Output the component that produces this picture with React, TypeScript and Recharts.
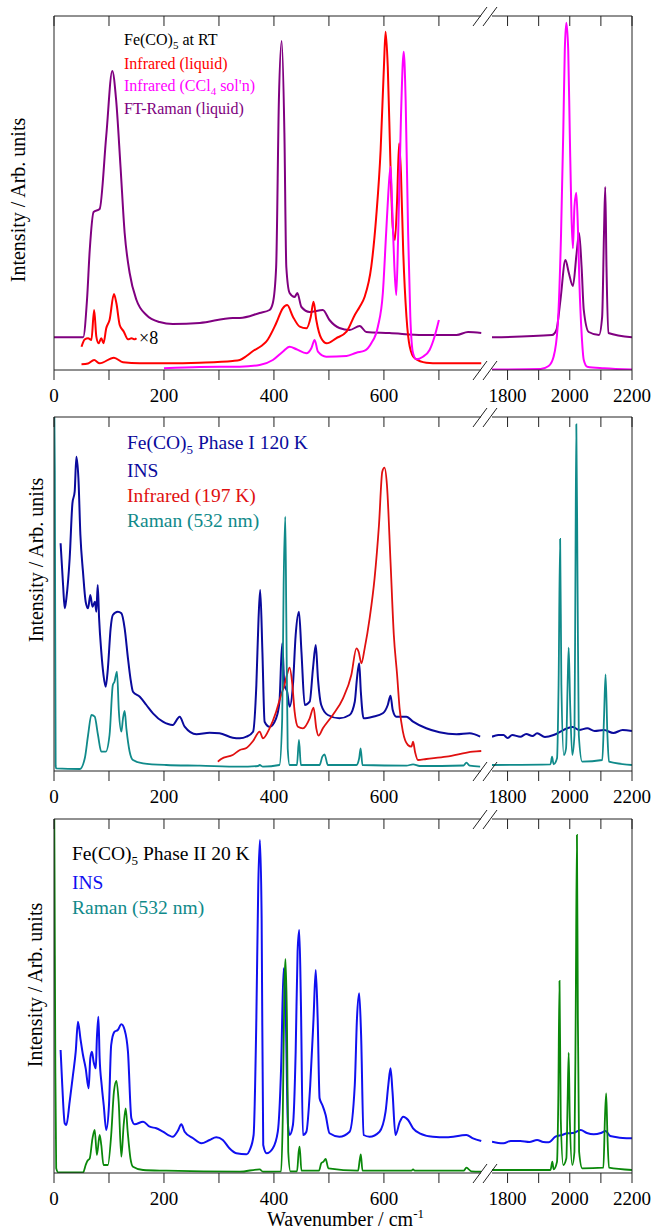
// Fe(CO)5 vibrational spectra — three stacked panels, broken wavenumber axis
import { LineChart, Line, XAxis, YAxis } from 'recharts'

type Pt = [number, number]

const C = {
  axis: '#222', purple: '#800080', red: '#ff0000', magenta: '#ff00ff',
  navy: '#0a0a9c', red2: '#e01010', teal: '#108a8a', blue: '#1010f0', green: '#0a880a',
}
const FONT = "'Liberation Serif', 'Times New Roman', serif"

const LEFT_DOMAIN: [number, number] = [0, 782]
const RIGHT_DOMAIN: [number, number] = [1750, 2200]
const LEFT_TICKS = [0, 100, 200, 300, 400, 500, 600, 700]
const RIGHT_TICKS = [1800, 1900, 2000, 2100, 2200]

// ── Panel 1: liquid at room temperature ─────────────────────
const ramanLiquidLow: Pt[] = [
  [0, 32.7], [53, 32.7], [60, 70], [65, 120], [72, 158], [83, 161], [95, 234], [106, 299],
  [113, 270], [121, 203], [128.5, 137], [137.6, 97], [150, 70], [168, 55], [192, 48], [216, 46],
  [265, 47], [325, 52], [338, 52], [374, 57], [392, 60], [398, 67], [404, 103], [409, 270],
  [414, 329], [419, 237], [422.5, 103], [428.5, 77], [437.6, 73], [442.5, 77], [450, 63], [465, 58],
  [489, 60], [501, 50], [519, 42], [537.6, 40], [556, 44], [568, 38], [610, 37], [671, 35],
  [732, 35], [753, 38], [777, 37],
]
const ramanLiquidHigh: Pt[] = [
  [1750, 32.7], [1943, 35], [1957, 40], [1970, 70], [1986, 110], [1997, 97], [2010, 84], [2022, 117],
  [2030, 137], [2038, 103], [2045, 60], [2061, 38], [2094, 35], [2104, 53], [2110, 137], [2114, 183],
  [2118, 103], [2124, 37], [2200, 32.7],
]
const irLiquid: Pt[] = [
  [50, 5.7], [62, 6.5], [73, 10], [83, 6.7], [109, 12.3], [125.5, 7.7], [156, 6.7], [204, 6.7],
  [265, 7.3], [325, 9], [338, 10], [350, 14], [362, 19], [377, 24], [386, 28.3], [404, 46.7],
  [416, 61.7], [424, 65], [434.5, 53.3], [447, 43.3], [459, 41.7], [467, 53.3], [472, 68.3], [477, 50],
  [486, 31.7], [496, 26.7], [513, 31.7], [532, 38.3], [547, 55], [556, 63.3], [565, 73.3], [577, 103.3],
  [586, 153.3], [594, 220], [600, 303.3], [603, 338.3], [607, 303.3], [612, 203.3], [616, 143.3],
  [620, 130], [624, 170], [627.6, 226.7], [631, 196.7], [635, 120], [641, 53.3], [647, 23.3],
  [656, 11.7], [677, 7.3], [701, 6.7], [777, 6.7],
]
const irLiquidX8: Pt[] = [
  [50, 23.3], [56, 30.7], [62, 31.7], [68, 30], [73, 60], [77, 33.3], [81, 26.7], [86, 31.7],
  [90, 26.7], [95, 41.7], [101, 50], [109, 76], [113.5, 66.7], [119.5, 45], [127, 38.3],
  [134.5, 30.7], [141, 31.7], [147, 30.7], [150, 31.7],
]
const irCCl4Low: Pt[] = [
  [200, 1.7], [265, 3], [338, 3.3], [374, 5], [398, 10], [416, 18.3], [428.5, 23.3], [441, 20.7],
  [459, 16.7], [468, 21.7], [474, 30], [480, 18.3], [495, 13.3], [532, 14], [550, 17.3], [565, 19.3],
  [577, 26.7], [589, 43.3], [598, 76.7], [604, 136.7], [608, 176.7], [612, 203.3], [615, 163.3],
  [619, 103.3], [622.5, 75], [626, 136.7], [631, 253.3], [636, 318.3], [639.5, 270], [644, 136.7],
  [648, 53.3], [653, 16.7], [659, 10.7], [671, 13.3], [683, 20], [692, 33.3], [700, 50],
]
const irCCl4High: Pt[] = [
  [1750, 0.5], [1906, 1], [1932, 4], [1948, 13.3], [1961, 43.3], [1972, 136.7], [1979, 236.7],
  [1984, 320], [1989, 347.3], [1995, 320], [2000, 236.7], [2005.5, 153.3], [2010, 121.7],
  [2015, 163.3], [2021, 177.3], [2026, 143.3], [2031, 86.7], [2038, 36.7], [2045, 10], [2056, 3.3],
  [2110, 1.7], [2200, 0.5],
]

// ── Panel 2: phase I, 120 K ─────────────────────────────────
const insPhaseILow: Pt[] = [
  [12, 227.7], [16.5, 186], [19.5, 162.7], [22.5, 172.7], [28.5, 212.7], [33.5, 267.7], [37.6, 279.3],
  [40.7, 314.3], [44.4, 292.7], [48, 236], [52.7, 199.3], [57.6, 169.3], [62, 162.7], [66, 176],
  [70, 164.3], [74.5, 169.3], [77, 159.3], [79.5, 186], [82, 152.7], [86, 119.3], [90, 96], [94, 84.3],
  [98, 102.7], [103, 142.7], [107, 156], [116, 159.3], [122.5, 157.7], [128.5, 142.7], [134.5, 112.7],
  [139, 92.7], [143.6, 79.3], [156, 74.3], [168, 66], [180, 57.7], [198, 49.3], [216, 46],
  [228.5, 54.3], [237.6, 44.3], [259, 36.7], [283, 38.3], [301, 37.7], [325, 33.3], [338, 32.7],
  [350, 34.3], [362, 39.3], [368, 86], [372, 152.7], [375, 181], [379, 119.3], [383, 49.3], [392, 44.3],
  [404, 52.7], [410, 69.3], [415, 127.7], [419, 86], [424, 79.3], [428.5, 64.3], [434.5, 86],
  [439.5, 136], [445.5, 159.3], [450, 119.3], [456, 66], [465, 69.3], [471, 102.7], [476, 126],
  [480, 92.7], [486, 66], [498, 56], [519, 52.7], [537.6, 56], [547, 69.3], [551, 92.7], [555, 107.7],
  [558, 79.3], [563, 52.7], [580, 54.3], [598, 57.7], [607, 66], [612, 75.3], [616, 61], [622.5, 54.3],
  [641, 54.3], [653, 49.3], [677, 42.7], [701, 38.7], [732, 36.7], [756, 37.7], [775, 34.3],
]
const insPhaseIHigh: Pt[] = [
  [1750, 34.3], [1770, 36], [1787, 36], [1800, 33], [1815, 36], [1841, 34.3], [1860, 37], [1880, 35],
  [1895, 37.7], [1920, 34], [1948, 36], [1970, 39.3], [1992, 42.7], [2010, 44], [2030, 41],
  [2056, 42.7], [2080, 40], [2110, 41], [2140, 38], [2170, 41], [2200, 40],
]
const ir197K: Pt[] = [
  [298, 9.3], [304, 12], [325, 16], [338, 21], [350, 23], [362, 30], [374, 39.3], [380, 32.7],
  [392, 42.7], [404, 59.3], [413, 76], [419, 86], [423.6, 96], [428.5, 103.3], [433.5, 86],
  [437.6, 59.3], [443.6, 44.3], [452.7, 42.7], [465, 52.7], [472, 63.3], [477, 42.7], [481, 35.3],
  [489, 42.7], [507, 56], [525.6, 72.7], [540.7, 96], [550, 122.7], [554, 119.3], [559, 107.7],
  [565, 122.7], [574, 152.7], [583, 192.7], [591, 246], [597, 299.3], [601, 303.3], [605.5, 286],
  [612, 209.3], [618, 136], [624, 96], [628.5, 62.7], [634.5, 39.3], [643.6, 26], [650, 24.3],
  [653, 29.3], [656.5, 19.3], [662, 11], [677, 12], [713.5, 14.3], [762, 19.3], [777, 20],
]
const ramanPhaseILow: Pt[] = [
  [0, 400], [1.5, 300], [3, 5], [4.2, 2.7], [47, 2], [56, 12.7], [62, 36], [68, 56], [74, 54.3],
  [80, 36], [86, 19.3], [94, 19.3], [101, 36], [107, 86], [110, 89.3], [114.5, 99.3], [118, 59.3],
  [122.5, 39.3], [125.5, 52.7], [128.5, 60], [131.6, 42.7], [137.6, 19.3], [143.6, 11], [162, 7.7],
  [204, 6], [265, 5.3], [338, 4.3], [371, 5], [374, 6], [380, 4.3], [410, 6], [415, 52.7],
  [417.6, 186], [420.6, 254.3], [422.5, 152.7], [425, 22.7], [428.5, 6], [441.8, 6], [445.5, 31],
  [449, 6], [483, 6], [488, 14.3], [492, 16.7], [498, 6], [550, 6], [555, 12.7], [557.6, 22.7],
  [561, 6], [641, 5.3], [653, 6.7], [665, 5], [745, 5.5], [750, 8.3], [756, 5.3], [775, 4.3],
]
const ramanPhaseIHigh: Pt[] = [
  [1750, 6], [1938, 6.7], [1943, 14.3], [1948, 6.7], [1959, 12.7], [1964, 86], [1969, 232], [1973, 86],
  [1981, 16], [1988, 22.7], [1993, 86], [1996.5, 123.3], [2001, 69.3], [2008, 16], [2015, 36],
  [2018, 186], [2021, 346.7], [2025, 186], [2029, 36], [2040, 9.3], [2104.5, 11], [2110, 52.7],
  [2115, 96.7], [2121, 36], [2126, 9.3], [2200, 6],
]

// ── Panel 3: phase II, 20 K ─────────────────────────────────
const insPhaseIILow: Pt[] = [
  [12, 123], [15, 88], [19.5, 49.7], [22.5, 48], [28.5, 71.3], [34.5, 98], [39.5, 121.3], [43.6, 151.3],
  [48, 134.7], [52.7, 118], [57.6, 104.7], [63, 84.7], [66, 114.7], [69, 121.3], [72, 111.3],
  [76, 104.7], [78, 134.7], [80.7, 156.3], [83, 114.7], [86.7, 88], [90.4, 68], [95, 43], [100, 68],
  [104, 128], [110, 141.3], [116, 143], [122.5, 148.7], [128.5, 143], [134.5, 121.3], [140.7, 54.7],
  [146.7, 48.7], [162, 51.3], [174, 46.3], [186, 44.7], [198, 41.3], [216, 36.3], [225, 42],
  [231.6, 48.7], [237.6, 41.3], [253, 34.7], [268, 29.7], [283, 33], [295, 35.7], [307, 33],
  [319, 24.7], [331.6, 19.7], [350, 18.7], [356, 23], [363, 38], [368, 154.7], [371.5, 288],
  [374.5, 333], [377.6, 254.7], [380.5, 28], [386.7, 19.7], [398, 24.7], [407, 41.3], [413, 104.7],
  [417.6, 204.7], [421, 171.3], [425.5, 48], [428.5, 38], [434.5, 48], [439.5, 121.3], [443, 221.3],
  [446, 243], [449, 171.3], [452.7, 38], [459, 41.3], [466, 88], [472, 154.7], [476, 203],
  [479.5, 154.7], [483, 74.7], [488, 68], [494, 58], [501, 39.7], [519, 36.3], [537.6, 41.3],
  [547, 88], [551, 154.7], [555, 179.7], [558.5, 138], [563, 38], [574, 36.3], [592, 41.3],
  [603, 61.3], [608, 88], [612, 104.7], [615.6, 81.3], [621, 38], [629, 51.3], [635, 56.3],
  [644, 53], [653, 44.7], [665, 39.7], [689, 36.3], [713.5, 35.7], [750, 38], [762, 34.7], [777, 32],
]
const insPhaseIIHigh: Pt[] = [
  [1750, 31.3], [1770, 30], [1787, 29.7], [1810, 32], [1841, 32], [1870, 31], [1895, 33], [1915, 31],
  [1932, 30.7], [1954, 36.3], [1975, 38], [1992, 39.7], [2010, 40], [2035, 43], [2055, 40],
  [2077, 38.7], [2100, 40], [2115, 42], [2130, 37], [2142, 36.3], [2170, 35], [2200, 34.7],
]
const ramanPhaseIILow: Pt[] = [
  [0, 420], [1, 300], [2.5, 100], [4, 4.7], [7.5, 0.7], [53, 0.7], [57.6, 8], [60.7, 12], [65, 14.7],
  [70, 34.7], [74, 43], [78, 18], [83, 38], [86, 28], [90, 8], [98, 8], [104, 38], [109, 81.3],
  [113.5, 92], [117.6, 71.3], [122.5, 16.3], [126.7, 48], [130.4, 64.7], [134, 41.3], [139, 14.7],
  [143.6, 6.3], [162, 3], [204, 2.3], [338, 1.3], [374, 3.7], [380, 1.3], [413, 1.7], [416, 54.7],
  [419, 188], [421, 214], [423.6, 154.7], [426, 21.3], [430, 1.7], [442, 1.7], [445, 21.3],
  [446.7, 26.3], [450, 2.3], [482, 2.3], [486, 9.7], [490, 11.3], [494, 14], [499, 4.7], [553, 2.3],
  [556, 13], [558, 18.7], [561, 2.3], [650, 2.3], [653, 3.7], [656, 2.3], [745, 2.3], [750, 5.3],
  [759, 1.7], [777, 1.3],
]
const ramanPhaseIIHigh: Pt[] = [
  [1750, 3], [1938, 3], [1944, 11.3], [1948, 3.7], [1959, 11.3], [1963, 71.3], [1967, 192],
  [1971, 54.7], [1979, 8], [1989, 14.7], [1993, 71.3], [1996.5, 120.3], [2000, 54.7], [2008, 8],
  [2015, 21.3], [2019, 154.7], [2023, 338], [2026, 154.7], [2030, 21.3], [2040, 4.7], [2108, 5.3],
  [2113, 54.7], [2117, 79.7], [2121, 38], [2126, 5.3], [2200, 3],
]

// ── Layout ─────────────────────────────────────────────────
const PLOT_H = 354
const M_TOP = 10
const AXIS_H = 40
const LEFT_W = 484      // y axis 54 + plot 430
// right segment: plot spans page x 492..632, extra room left/right for tick labels
const RIGHT_X = 462
const RIGHT_W = 191
const RIGHT_PAD_L = 30
const RIGHT_PAD_R = 20
const PANEL_TOPS = [16, 417, 819]

interface Series { key: string; data: Pt[]; color: string; w: number }

const pts = (a: Pt[]) => a.map(([x, y]) => ({ x, y }))

function Segment({ x, top, width, padL, padR, domain, ticks, series, side }: {
  x: number; top: number; width: number; padL: number; padR: number
  domain: [number, number]; ticks: number[]; series: Series[]; side: 'left' | 'right'
}) {
  const h = M_TOP + PLOT_H + AXIS_H
  return (
    <div style={{ position: 'absolute', left: x, top: top - M_TOP, width, height: h }}>
      <LineChart width={width} height={h} margin={{ top: M_TOP, right: padR, bottom: 0, left: padL }}>
        <XAxis dataKey="x" type="number" domain={domain} ticks={ticks} allowDataOverflow interval={0}
          height={AXIS_H} tickSize={10} tickMargin={9} stroke={C.axis}
          tick={{ fill: '#000', fontSize: 19, fontFamily: FONT }}
          tickFormatter={(v: number) => (v % 200 === 0 ? String(v) : '')} />
        <XAxis xAxisId="top" orientation="top" mirror dataKey="x" type="number" domain={domain}
          ticks={ticks} allowDataOverflow interval={0} tickSize={10} stroke={C.axis}
          tickFormatter={() => ''} />
        <YAxis type="number" domain={[0, PLOT_H]} allowDataOverflow
          orientation={side} width={side === 'left' ? 54 : 1}
          tick={false} tickLine={false} stroke={C.axis} />
        {series.map(s => (
          <Line key={s.key} data={pts(s.data)} dataKey="y" type="monotone" stroke={s.color}
            strokeWidth={s.w} dot={false} isAnimationActive={false} />
        ))}
      </LineChart>
    </div>
  )
}

function Panel({ top, low, high }: { top: number; low: Series[]; high: Series[] }) {
  return (
    <>
      <Segment x={0} top={top} width={LEFT_W} padL={0} padR={0}
        domain={LEFT_DOMAIN} ticks={LEFT_TICKS} series={low} side="left" />
      <Segment x={RIGHT_X} top={top} width={RIGHT_W} padL={RIGHT_PAD_L} padR={RIGHT_PAD_R}
        domain={RIGHT_DOMAIN} ticks={RIGHT_TICKS} series={high} side="right" />
    </>
  )
}

// axis break marks "//" on the top and bottom frame lines
function BreakMarks({ y }: { y: number }) {
  return (
    <g>
      <rect x={481} y={y - 2} width={10} height={4} fill="#fff" />
      <line x1={473} y1={y + 10} x2={487} y2={y - 9} stroke={C.axis} strokeWidth={1} />
      <line x1={483} y1={y + 10} x2={497} y2={y - 9} stroke={C.axis} strokeWidth={1} />
    </g>
  )
}

function YLabel({ x, y }: { x: number; y: number }) {
  return (
    <text x={x} y={y} transform={`rotate(-90 ${x} ${y})`} textAnchor="middle" dominantBaseline="central"
      fontSize={20} fill="#000">Intensity / Arb. units</text>
  )
}

export default function App() {
  const [p1, p2, p3] = PANEL_TOPS
  return (
    <div style={{ position: 'absolute', left: 0, top: 0, width: 653, height: 1232, background: '#fff', fontFamily: FONT }}>
      <Panel top={p1}
        low={[
          { key: 'raman', data: ramanLiquidLow, color: C.purple, w: 2 },
          { key: 'irx8', data: irLiquidX8, color: C.red, w: 2 },
          { key: 'ir', data: irLiquid, color: C.red, w: 2 },
          { key: 'ccl4', data: irCCl4Low, color: C.magenta, w: 2 },
        ]}
        high={[
          { key: 'raman', data: ramanLiquidHigh, color: C.purple, w: 2 },
          { key: 'ccl4', data: irCCl4High, color: C.magenta, w: 2 },
        ]} />
      <Panel top={p2}
        low={[
          { key: 'ins', data: insPhaseILow, color: C.navy, w: 2 },
          { key: 'ir', data: ir197K, color: C.red2, w: 1.8 },
          { key: 'raman', data: ramanPhaseILow, color: C.teal, w: 1.8 },
        ]}
        high={[
          { key: 'ins', data: insPhaseIHigh, color: C.navy, w: 2 },
          { key: 'raman', data: ramanPhaseIHigh, color: C.teal, w: 1.8 },
        ]} />
      <Panel top={p3}
        low={[
          { key: 'ins', data: insPhaseIILow, color: C.blue, w: 2 },
          { key: 'raman', data: ramanPhaseIILow, color: C.green, w: 1.8 },
        ]}
        high={[
          { key: 'ins', data: insPhaseIIHigh, color: C.blue, w: 2 },
          { key: 'raman', data: ramanPhaseIIHigh, color: C.green, w: 1.8 },
        ]} />

      <svg width={653} height={1232} style={{ position: 'absolute', left: 0, top: 0, pointerEvents: 'none' }}
        fontFamily={FONT}>
        {PANEL_TOPS.map(t => (
          <g key={t}>
            <BreakMarks y={t} />
            <BreakMarks y={t + PLOT_H} />
          </g>
        ))}

        {/* panel 1 legend */}
        <g fontSize={16}>
          <text x={124} y={45} fill="#000">Fe(CO)<tspan fontSize={11} dy={4}>5</tspan><tspan dy={-4}> at RT</tspan></text>
          <text x={124} y={69} fill={C.red}>Infrared (liquid)</text>
          <text x={124} y={91} fill={C.magenta}>Infrared (CCl<tspan fontSize={11} dy={4}>4</tspan><tspan dy={-4}> sol'n)</tspan></text>
          <text x={124} y={114} fill={C.purple}>FT-Raman (liquid)</text>
        </g>
        <text x={139} y={344} fontSize={18} fill="#000">×8</text>

        {/* panel 2 legend */}
        <g fontSize={19.5}>
          <text x={127} y={449} fill={C.navy}>Fe(CO)<tspan fontSize={13} dy={5}>5</tspan><tspan dy={-5}> Phase I 120 K</tspan></text>
          <text x={127} y={477} fill={C.navy}>INS</text>
          <text x={127} y={502} fill={C.red2}>Infrared (197 K)</text>
          <text x={127} y={527} fill={C.teal}>Raman (532 nm)</text>
        </g>

        {/* panel 3 legend */}
        <g fontSize={19.5}>
          <text x={72} y={860} fill="#000">Fe(CO)<tspan fontSize={13} dy={5}>5</tspan><tspan dy={-5}> Phase II 20 K</tspan></text>
          <text x={72} y={889} fill={C.blue}>INS</text>
          <text x={72} y={914} fill={C.teal}>Raman (532 nm)</text>
        </g>

        <YLabel x={18} y={200} />
        <YLabel x={36} y={560} />
        <YLabel x={35} y={985} />

        <text x={267} y={1226} fontSize={20} fill="#000">Wavenumber / cm<tspan fontSize={13} dy={-8}>-1</tspan></text>
      </svg>
    </div>
  )
}
